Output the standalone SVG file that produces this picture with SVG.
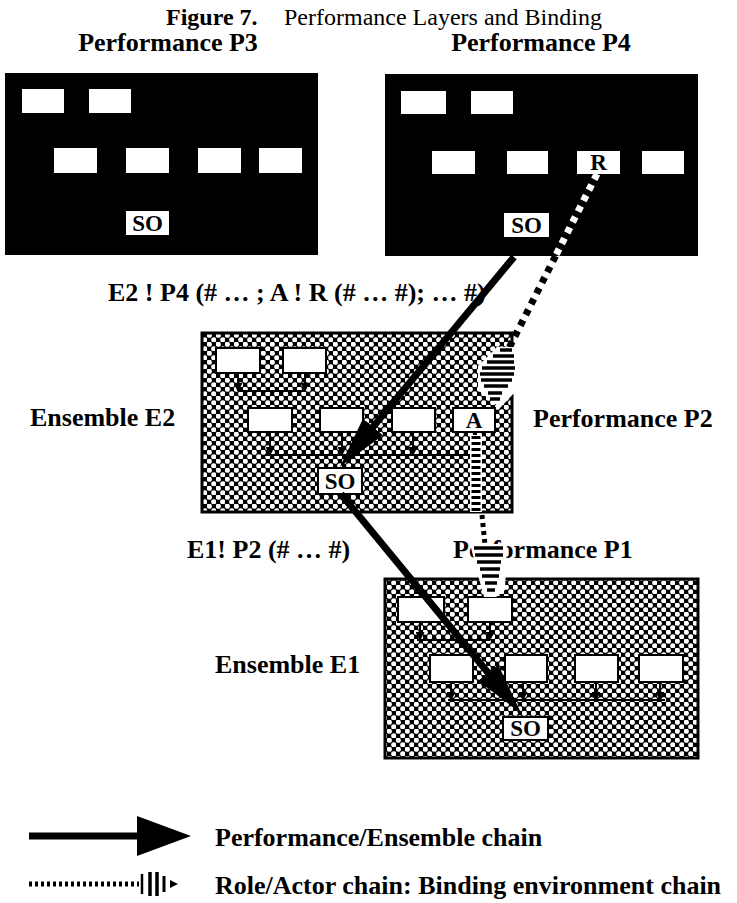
<svg xmlns="http://www.w3.org/2000/svg" width="737" height="903" viewBox="0 0 737 903">
<defs>
<style>
.lbl{font-family:"Liberation Serif","Times New Roman",serif;font-weight:bold;font-size:26px;fill:#000}
.ttl{font-family:"Liberation Serif","Times New Roman",serif;font-size:24px;fill:#000}
.in{font-family:"Liberation Serif","Times New Roman",serif;font-weight:bold;font-size:23px;fill:#000;text-anchor:middle}
.panel{fill:#000}
.wb{fill:#fff}
.ib{fill:#fff;stroke:#000;stroke-width:2}
.ens{fill:url(#dots);stroke:#000;stroke-width:3}
.big{stroke:#000;stroke-width:7;fill:none;marker-end:url(#head)}
.tk{stroke:#000;stroke-width:2;fill:none}
.tka{stroke:#000;stroke-width:2;fill:none;marker-end:url(#small)}
.bar{stroke:#000;stroke-width:3.5}
.bak{fill:#fff}
</style>
<pattern id="dots" width="9" height="9" patternUnits="userSpaceOnUse">
<rect width="9" height="9" fill="#000"/>
<circle cx="2.25" cy="2.25" r="2.6" fill="#fff"/>
<circle cx="6.75" cy="6.75" r="2.6" fill="#fff"/>
</pattern>
<marker id="head" viewBox="0 0 52 26" refX="22" refY="13" markerWidth="52" markerHeight="26" markerUnits="userSpaceOnUse" orient="auto">
<path d="M0,0 L52,13 L0,26 Z" fill="#000"/>
</marker>
<marker id="small" viewBox="0 0 9 9" refX="8" refY="4.5" markerWidth="9" markerHeight="9" markerUnits="userSpaceOnUse" orient="auto">
<path d="M0,0 L9,4.5 L0,9 Z" fill="#000"/>
</marker>
</defs>
<rect width="737" height="903" fill="#fff"/>

<g id="title">
<text class="ttl" x="166" y="25"><tspan font-weight="bold">Figure 7.</tspan><tspan x="284">Performance Layers and Binding</tspan></text>
</g>

<g id="P3">
<rect class="panel" x="5" y="73" width="313" height="182"/>
<rect class="wb" x="22" y="89" width="42" height="24"/>
<rect class="wb" x="89" y="89" width="42" height="24"/>
<rect class="wb" x="54" y="148" width="43" height="25"/>
<rect class="wb" x="126" y="148" width="43" height="25"/>
<rect class="wb" x="198" y="148" width="43" height="25"/>
<rect class="wb" x="259" y="148" width="43" height="25"/>
<rect class="wb" x="126" y="211" width="43" height="24"/>
<text class="in" x="147.5" y="231">SO</text>
<text class="lbl" x="168" y="51" text-anchor="middle">Performance P3</text>
</g>

<g id="P4">
<rect class="panel" x="385" y="74" width="313" height="182"/>
<rect class="wb" x="401" y="91" width="45" height="23"/>
<rect class="wb" x="471" y="91" width="42" height="23"/>
<rect class="wb" x="432" y="151" width="43" height="23"/>
<rect class="wb" x="507" y="151" width="41" height="23"/>
<rect class="wb" x="577" y="151" width="43" height="23"/>
<text class="in" x="598.5" y="170">R</text>
<rect class="wb" x="642" y="151" width="42" height="23"/>
<rect class="wb" x="504" y="213" width="45" height="24"/>
<text class="in" x="526.5" y="233">SO</text>
<text class="lbl" x="541" y="51" text-anchor="middle">Performance P4</text>
</g>

<g id="E2">
<rect class="ens" x="202" y="333" width="310" height="179"/>
<rect class="ib" x="216" y="348" width="44" height="25"/>
<rect class="ib" x="283" y="348" width="43" height="25"/>
<rect class="ib" x="248" y="408" width="44" height="24"/>
<rect class="ib" x="320" y="408" width="43" height="24"/>
<rect class="ib" x="392" y="408" width="43" height="24"/>
<rect class="ib" x="453" y="408" width="42" height="24"/>
<text class="in" x="474" y="428">A</text>
<path class="tka" d="M238,373 V391"/>
<path class="tka" d="M305,373 V391"/>
<path class="tk" d="M238,391 H305"/>
<path class="tka" d="M270,432 V455"/>
<path class="tka" d="M342,432 V455"/>
<path class="tka" d="M413,432 V455"/>
<path class="tka" d="M474,432 V455"/>
<path class="tk" d="M265,455 H480"/>
<rect class="ib" x="318" y="468" width="44" height="26" stroke-width="2.5"/>
<text class="in" x="340" y="489">SO</text>
<text class="lbl" x="30" y="426">Ensemble E2</text>
<text class="lbl" x="533" y="427">Performance P2</text>
</g>

<g id="E1">
<rect class="ens" x="385" y="579" width="313" height="179"/>
<rect class="ib" x="398" y="597" width="46" height="25"/>
<rect class="ib" x="468" y="597" width="44" height="25"/>
<rect class="ib" x="430" y="655" width="43" height="27"/>
<rect class="ib" x="505" y="655" width="42" height="27"/>
<rect class="ib" x="575" y="655" width="43" height="27"/>
<rect class="ib" x="639" y="655" width="44" height="27"/>
<path class="tka" d="M420,622 V640"/>
<path class="tka" d="M490,622 V640"/>
<path class="tk" d="M417,640 H490"/>
<path class="tka" d="M451,682 V700"/>
<path class="tka" d="M523,682 V700"/>
<path class="tka" d="M596,682 V700"/>
<path class="tka" d="M660,682 V700"/>
<path class="tk" d="M448,700 H665"/>
<rect class="ib" x="503" y="717" width="45" height="23" stroke-width="2.5"/>
<text class="in" x="525.5" y="736">SO</text>
<text class="lbl" x="215" y="673">Ensemble E1</text>
<text class="lbl" x="453" y="558">Performance P1</text>
</g>

<g id="labels">
<text class="lbl" x="108" y="301">E2 ! P4 (# … ; A ! R (# … #); … #)</text>
<text class="lbl" x="187" y="558">E1! P2 (# … #)</text>
</g>

<g id="connectors">
<path class="big" d="M514,257 L359,443.8"/>
<path class="big" d="M341,494 L502,689.8"/>
<path d="M597,174 L555.5,256" stroke="#fff" stroke-width="7" stroke-dasharray="6 6" fill="none"/>
<path d="M555.5,256 L509,348" stroke="#000" stroke-width="7" stroke-dasharray="6 6" fill="none"/>
<path class="bak" d="M497,347 L517,347 L517,390 L500,408 L478,390 L478,366 Z"/>
<g class="bar">
<path d="M500,350 H512"/><path d="M493,356 H514"/><path d="M487,362 H514"/><path d="M482,368 H515"/><path d="M480,374 H514"/><path d="M481,380 H512"/><path d="M484,386 H508"/><path d="M488,393 H502"/><path d="M490,399 H500"/>
</g>
<path d="M476,435 V512" stroke="#fff" stroke-width="12" fill="none"/>
<path d="M476,436 V512" stroke="#000" stroke-width="9" stroke-dasharray="3 3" fill="none"/>
<path d="M482,515 L485,545" stroke="#000" stroke-width="5" stroke-dasharray="4 4" fill="none"/>
<path class="bak" d="M470,544 L507,544 L505,590 L496,597 L484,597 L478,575 Z"/>
<g class="bar">
<path d="M474,548 H503"/><path d="M475,555 H503"/><path d="M477,562 H501"/><path d="M480,569 H500"/><path d="M482,576 H499"/><path d="M485,583 H497"/><path d="M487,590 H495"/>
</g>
</g>

<g id="legend">
<path d="M29,836 H160" stroke="#000" stroke-width="7"/>
<path d="M137,816 L191,836 L137,856 Z" fill="#000"/>
<text class="lbl" x="215" y="846">Performance/Ensemble chain</text>
<path d="M29,884 H139" stroke="#000" stroke-width="5" stroke-dasharray="3 3"/>
<path d="M142,874 V894" stroke="#000" stroke-width="2.5"/>
<path d="M150,872 V896" stroke="#000" stroke-width="3.5"/>
<path d="M157,872 V896" stroke="#000" stroke-width="3.5"/>
<path d="M164,876 V892" stroke="#000" stroke-width="3"/>
<path d="M170,880 L178,884 L170,888 Z" fill="#000"/>
<text class="lbl" x="215" y="894">Role/Actor chain: Binding environment chain</text>
</g>
</svg>
